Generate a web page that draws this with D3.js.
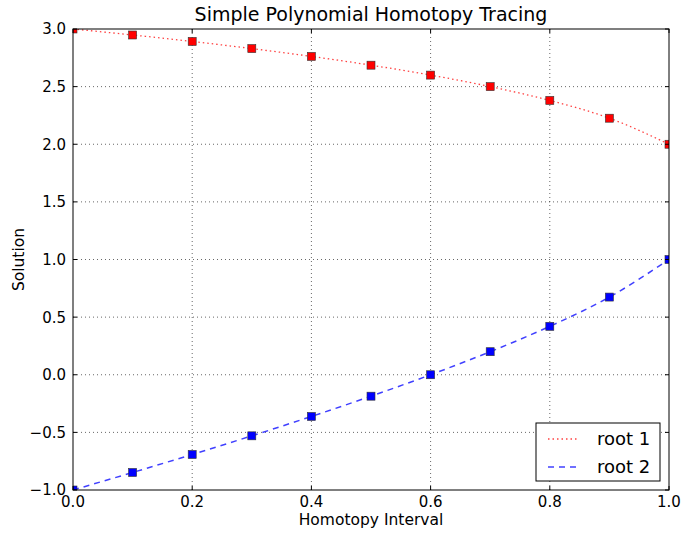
<!DOCTYPE html>
<html>
<head>
<meta charset="utf-8">
<script src="https://cdn.jsdelivr.net/npm/d3@7"></script>
<style>
  body { margin: 0; background: #fff; }
  svg { display: block; font-family: "DejaVu Sans", sans-serif; }
</style>
</head>
<body>
<div id="chart"></div>
<script>
// data
const tValues = [0.0, 0.1, 0.2, 0.3, 0.4, 0.5, 0.6, 0.7, 0.8, 0.9, 1.0];
const root1 = [3.0, 2.948, 2.892, 2.830, 2.762, 2.686, 2.600, 2.500, 2.380, 2.226, 2.0];
const root2 = [-1.0, -0.848, -0.692, -0.530, -0.362, -0.186, 0.0, 0.200, 0.420, 0.674, 1.0];
const xTicks = [0.0, 0.2, 0.4, 0.6, 0.8, 1.0];
const yTicks = [-1.0, -0.5, 0.0, 0.5, 1.0, 1.5, 2.0, 2.5, 3.0];
const seriesNames = ['root 1', 'root 2'];

const width = 681, height = 533;
const margin = { left: 73, right: 12, top: 29, bottom: 43 };
const plotW = width - margin.left - margin.right;
const plotH = height - margin.top - margin.bottom;

const svg = d3.select('#chart').append('svg')
    .attr('width', width)
    .attr('height', height);

const x = d3.scaleLinear().domain([0, 1]).range([0, plotW]);
const y = d3.scaleLinear().domain([-1, 3]).range([plotH, 0]);

const g = svg.append('g')
    .attr('transform', `translate(${margin.left},${margin.top})`);

svg.append('defs').append('clipPath')
    .attr('id', 'clip')
    .append('rect')
    .attr('width', plotW)
    .attr('height', plotH);

// grid
g.append('g').selectAll('line')
    .data(xTicks.slice(1, -1))
    .enter().append('line')
    .attr('x1', d => x(d)).attr('x2', d => x(d))
    .attr('y1', 0).attr('y2', plotH)
    .attr('stroke', '#000').attr('stroke-width', 0.6)
    .attr('stroke-dasharray', '1,3');
g.append('g').selectAll('line')
    .data(yTicks.slice(1, -1))
    .enter().append('line')
    .attr('y1', d => y(d)).attr('y2', d => y(d))
    .attr('x1', 0).attr('x2', plotW)
    .attr('stroke', '#000').attr('stroke-width', 0.6)
    .attr('stroke-dasharray', '1,3');

// series
const series = [
    { name: seriesNames[0], values: root1, color: 'red', dash: '1.5,3', lineColor: '#ff0000', lw: 1.3 },
    { name: seriesNames[1], values: root2, color: 'blue', dash: '6,5', lineColor: '#0000ff', lw: 1.5 }
];

const line = d3.line()
    .x((d, i) => x(tValues[i]))
    .y(d => y(d))
    .curve(d3.curveMonotoneX);

const plot = g.append('g').attr('clip-path', 'url(#clip)');

series.forEach(s => {
    plot.append('path')
        .datum(s.values)
        .attr('fill', 'none')
        .attr('stroke', s.lineColor)
        .attr('stroke-opacity', 0.75)
        .attr('stroke-width', s.lw)
        .attr('stroke-dasharray', s.dash)
        .attr('d', line);

    plot.append('g').selectAll('rect')
        .data(s.values)
        .enter().append('rect')
        .attr('x', (d, i) => x(tValues[i]) - 4)
        .attr('y', d => y(d) - 4)
        .attr('width', 8)
        .attr('height', 8)
        .attr('fill', s.color)
        .attr('stroke', '#333')
        .attr('stroke-width', 0.6);
});

// frame
g.append('rect')
    .attr('width', plotW)
    .attr('height', plotH)
    .attr('fill', 'none')
    .attr('stroke', '#000')
    .attr('stroke-width', 1);

// ticks (inward, all four sides)
const tickLen = 4;
xTicks.forEach(t => {
    g.append('line').attr('x1', x(t)).attr('x2', x(t)).attr('y1', plotH).attr('y2', plotH - tickLen).attr('stroke', '#000');
    g.append('line').attr('x1', x(t)).attr('x2', x(t)).attr('y1', 0).attr('y2', tickLen).attr('stroke', '#000');
});
yTicks.forEach(t => {
    g.append('line').attr('y1', y(t)).attr('y2', y(t)).attr('x1', 0).attr('x2', tickLen).attr('stroke', '#000');
    g.append('line').attr('y1', y(t)).attr('y2', y(t)).attr('x1', plotW).attr('x2', plotW - tickLen).attr('stroke', '#000');
});

// tick labels
const fmt = d3.format('.1f');
const minus = v => fmt(v).replace('-', '\u2212');
g.append('g').selectAll('text')
    .data(xTicks)
    .enter().append('text')
    .attr('x', d => x(d))
    .attr('y', plotH + 17)
    .attr('text-anchor', 'middle')
    .attr('font-size', '15px')
    .attr('fill', '#000')
    .text(minus);
g.append('g').selectAll('text')
    .data(yTicks)
    .enter().append('text')
    .attr('x', -7)
    .attr('y', d => y(d))
    .attr('dy', '0.36em')
    .attr('text-anchor', 'end')
    .attr('font-size', '15px')
    .attr('fill', '#000')
    .text(minus);

// labels
svg.append('text')
    .attr('x', margin.left + plotW / 2)
    .attr('y', 525)
    .attr('text-anchor', 'middle')
    .attr('font-size', '15.5px')
    .text('Homotopy Interval');
svg.append('text')
    .attr('transform', `translate(24,${margin.top + plotH / 2}) rotate(-90)`)
    .attr('text-anchor', 'middle')
    .attr('font-size', '15.5px')
    .text('Solution');
svg.append('text')
    .attr('x', margin.left + plotW / 2)
    .attr('y', 21)
    .attr('text-anchor', 'middle')
    .attr('font-size', '19px')
    .text('Simple Polynomial Homotopy Tracing');

// legend
const legend = svg.append('g').attr('transform', 'translate(536,423)');
legend.append('rect')
    .attr('width', 124)
    .attr('height', 58)
    .attr('fill', '#fff')
    .attr('stroke', '#000')
    .attr('stroke-width', 1);
series.forEach((s, i) => {
    const cy = 16 + i * 28;
    legend.append('line')
        .attr('x1', 12).attr('x2', 42)
        .attr('y1', cy).attr('y2', cy)
        .attr('stroke', s.lineColor)
        .attr('stroke-opacity', 0.75)
        .attr('stroke-width', s.lw)
        .attr('stroke-dasharray', s.dash);
    legend.append('text')
        .attr('x', 61)
        .attr('y', cy)
        .attr('dy', '0.36em')
        .attr('font-size', '18px')
        .text(s.name);
});
</script>
</body>
</html>
